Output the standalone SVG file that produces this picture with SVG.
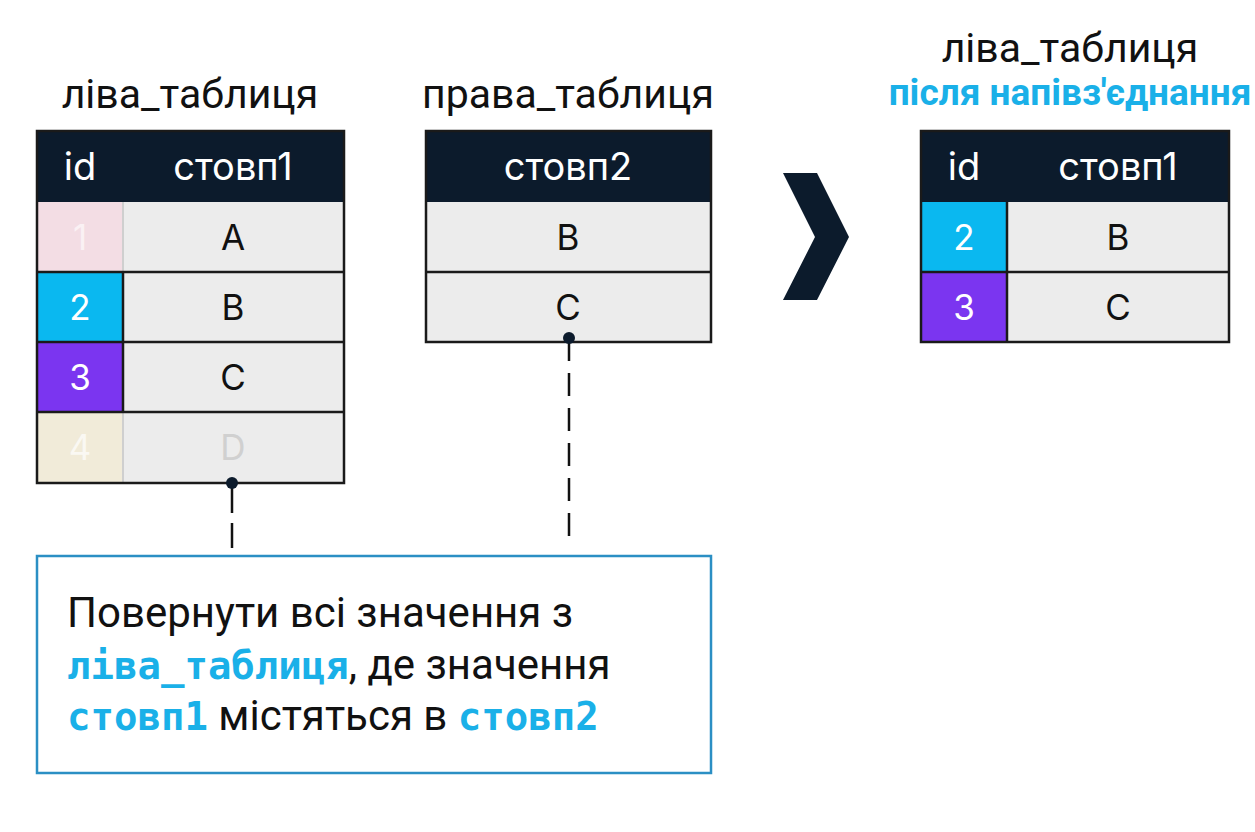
<svg xmlns="http://www.w3.org/2000/svg" width="1255" height="832" viewBox="0 0 1255 832">
<style>
.title{font-family:Roboto,"Liberation Sans",sans-serif;font-size:41px;fill:#111;text-anchor:middle}
.sub{font-family:Roboto,"Liberation Sans",sans-serif;font-size:37px;font-weight:bold;fill:#1ab0e8;text-anchor:middle}
.hd{fill:#0c1b2c}
.hdt{font-family:Inter,"Open Sans",sans-serif;font-size:38px;fill:#fff;text-anchor:middle}
.cell{fill:#ececec}
.ct{font-family:Inter,"Open Sans",sans-serif;font-size:35px;text-anchor:middle}
.idt{font-family:Inter,"Open Sans",sans-serif;font-size:35px;text-anchor:middle}
.ln{stroke:#1a1a1a;stroke-width:2.5;fill:none}
.lnl{stroke:#cfcfcf;stroke-width:2;fill:none}
.conn{stroke:#111;stroke-width:2.5;fill:none}
.note{font-family:Roboto,"Liberation Sans",sans-serif;font-size:42px;fill:#111}
.mono{font-family:"DejaVu Sans Mono","Liberation Mono",monospace;font-size:39px;font-weight:bold;fill:#1ab0e8}
</style>
<rect width="1255" height="832" fill="#fff"/>

<g id="left-table">
<text class="title" x="190" y="108">ліва_таблиця</text>
<rect class="hd" x="37" y="131" width="307" height="71"/>
<text class="hdt" x="80" y="180">id</text>
<text class="hdt" x="233" y="180">стовп1</text>
<rect x="37" y="202" width="86" height="70" fill="#f3dde4"/>
<rect class="cell" x="123" y="202" width="221" height="70"/>
<text class="idt" x="80" y="250" fill="#fff" fill-opacity="0.6">1</text>
<text class="ct" x="233" y="250" fill="#111">A</text>
<rect x="37" y="272" width="86" height="70" fill="#0ab8f0"/>
<rect class="cell" x="123" y="272" width="221" height="70"/>
<text class="idt" x="80" y="320" fill="#fff">2</text>
<text class="ct" x="233" y="320" fill="#111">B</text>
<rect x="37" y="342" width="86" height="70" fill="#7b35f0"/>
<rect class="cell" x="123" y="342" width="221" height="70"/>
<text class="idt" x="80" y="390" fill="#fff">3</text>
<text class="ct" x="233" y="390" fill="#111">C</text>
<rect x="37" y="412" width="86" height="71" fill="#f1ebd9"/>
<rect class="cell" x="123" y="412" width="221" height="71"/>
<text class="idt" x="80" y="460" fill="#fff" fill-opacity="0.7">4</text>
<text class="ct" x="233" y="460" fill="#d0d0d0">D</text>
<line class="lnl" x1="123" y1="202" x2="123" y2="272"/>
<line class="lnl" x1="123" y1="412" x2="123" y2="483"/>
<line class="ln" x1="123" y1="272" x2="123" y2="412"/>
<line class="ln" x1="37" y1="272" x2="344" y2="272"/>
<line class="ln" x1="37" y1="342" x2="344" y2="342"/>
<line class="ln" x1="37" y1="412" x2="344" y2="412"/>
<rect class="ln" x="37" y="131" width="307" height="352"/>
</g>

<g id="right-table">
<text class="title" x="568" y="108">права_таблиця</text>
<rect class="hd" x="426" y="131" width="285" height="71"/>
<text class="hdt" x="568" y="180">стовп2</text>
<rect class="cell" x="426" y="202" width="285" height="70"/>
<text class="ct" x="568" y="250" fill="#111">B</text>
<rect class="cell" x="426" y="272" width="285" height="70"/>
<text class="ct" x="568" y="320" fill="#111">C</text>
<line class="ln" x1="426" y1="272" x2="711" y2="272"/>
<rect class="ln" x="426" y="131" width="285" height="211"/>
</g>

<g id="chevron">
<polygon points="783,173 817,173 849,237 817,300 783,300 815,237" fill="#0c1b2c"/>
</g>

<g id="result-table">
<text class="title" x="1070" y="62">ліва_таблиця</text>
<text class="sub" x="1070" y="105">після напівз'єднання</text>
<rect class="hd" x="921" y="131" width="308" height="71"/>
<text class="hdt" x="964" y="180">id</text>
<text class="hdt" x="1118" y="180">стовп1</text>
<rect x="921" y="202" width="86" height="70" fill="#0ab8f0"/>
<rect class="cell" x="1007" y="202" width="222" height="70"/>
<text class="idt" x="964" y="250" fill="#fff">2</text>
<text class="ct" x="1118" y="250" fill="#111">B</text>
<rect x="921" y="272" width="86" height="70" fill="#7b35f0"/>
<rect class="cell" x="1007" y="272" width="222" height="70"/>
<text class="idt" x="964" y="320" fill="#fff">3</text>
<text class="ct" x="1118" y="320" fill="#111">C</text>
<line class="ln" x1="1007" y1="202" x2="1007" y2="342"/>
<line class="ln" x1="921" y1="272" x2="1229" y2="272"/>
<rect class="ln" x="921" y="131" width="308" height="211"/>
</g>

<g id="note">
<rect x="37" y="556" width="674" height="217" fill="#fff" stroke="#2b8fc4" stroke-width="2.5"/>
<text class="note" x="67" y="627">Повернути всі значення з</text>
<text class="note" x="67" y="679"><tspan class="mono">ліва_таблиця</tspan>, де значення</text>
<text class="note" x="67" y="730"><tspan class="mono">стовп1</tspan> містяться в <tspan class="mono">стовп2</tspan></text>
</g>

<g id="connectors">
<line class="conn" x1="232" y1="483" x2="232" y2="548" stroke-dasharray="30 10"/>
<circle cx="232" cy="483" r="6" fill="#0c1b2c"/>
<line class="conn" x1="569" y1="338" x2="569" y2="545" stroke-dasharray="23 12"/>
<circle cx="569" cy="338" r="6" fill="#0c1b2c"/>
</g>
</svg>
